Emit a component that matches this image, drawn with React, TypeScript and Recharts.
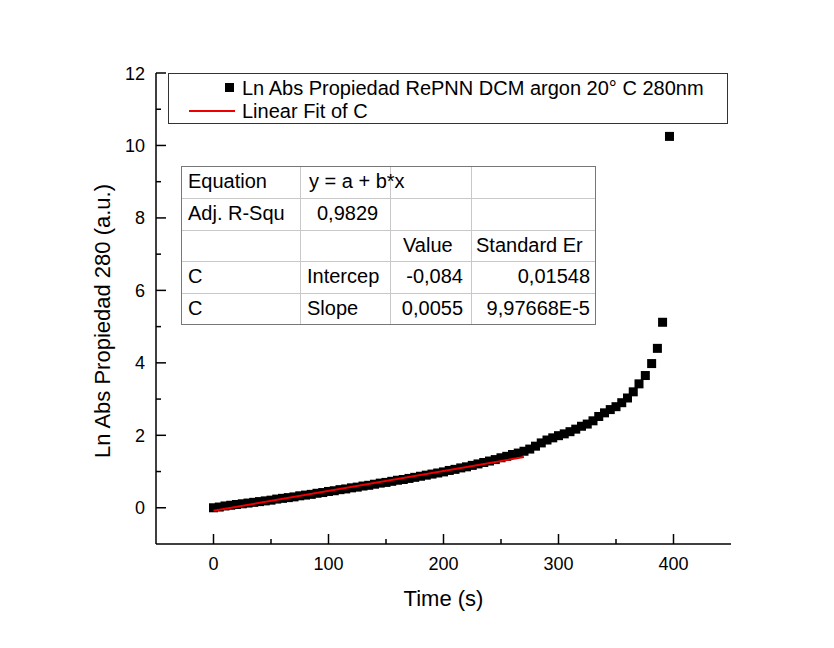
import React from 'react';
import { ScatterChart, Scatter, XAxis, YAxis, Label } from 'recharts';

// ---- data ----
const times = [
  0, 5, 10, 15, 20, 25, 30, 35, 40, 45, 50, 55, 60, 65, 70, 75, 80, 85, 90, 95,
  100, 105, 110, 115, 120, 125, 130, 135, 140, 145, 150, 155, 160, 165, 170, 175, 180, 185, 190, 195,
  200, 205, 210, 215, 220, 225, 230, 235, 240, 245, 250, 255, 260, 265, 270, 275, 280, 285, 290, 295,
  300, 305, 310, 315, 320, 325, 330, 335, 340, 345, 350, 355, 360, 365, 370, 375.5, 381, 386, 390.5, 396.5,
];
const lnAbs = [
  0.0, 0.02, 0.05, 0.07, 0.09, 0.11, 0.13, 0.15, 0.17, 0.19, 0.21, 0.24, 0.26, 0.28, 0.3, 0.33, 0.35, 0.37, 0.4, 0.42,
  0.45, 0.47, 0.5, 0.52, 0.55, 0.57, 0.6, 0.62, 0.65, 0.68, 0.7, 0.73, 0.76, 0.78, 0.81, 0.84, 0.87, 0.9, 0.93, 0.96,
  0.99, 1.03, 1.06, 1.1, 1.13, 1.17, 1.21, 1.25, 1.29, 1.33, 1.38, 1.42, 1.47, 1.51, 1.56, 1.62, 1.7, 1.79, 1.87, 1.93,
  1.99, 2.04, 2.1, 2.17, 2.25, 2.31, 2.4, 2.52, 2.62, 2.71, 2.79, 2.9, 3.03, 3.2, 3.42, 3.65, 3.98, 4.4, 5.12, 10.25,
];
const fitTimes = [0, 270];
const fitValues = [-0.084, 1.401];

const xTicks = [0, 50, 100, 150, 200, 250, 300, 350, 400];
const xLabelTicks = [0, 100, 200, 300, 400];
const yTicks = [0, 1, 2, 3, 4, 5, 6, 7, 8, 9, 10, 11, 12];
const yLabelTicks = [0, 2, 4, 6, 8, 10, 12];

const xTitle = 'Time (s)';
const yTitle = 'Ln Abs Propiedad 280 (a.u.)';
const seriesName = 'Ln Abs Propiedad RePNN DCM argon 20° C 280nm';
const fitName = 'Linear Fit of C';

const tableRows = [
  ['Equation', 'y = a + b*x', '', ''],
  ['Adj. R-Squ', '0,9829', '', ''],
  ['', '', 'Value', 'Standard Er'],
  ['C', 'Intercep', '-0,084', '0,01548'],
  ['C', 'Slope', '0,0055', '9,97668E-5'],
];

const points = times.map((t, i) => ({ t, v: lnAbs[i] }));
const fitLine = fitTimes.map((t, i) => ({ t, v: fitValues[i] }));

const FONT = '"Liberation Sans", Arial, sans-serif';

const XTick = (props: any) => {
  const { x, y, payload } = props;
  const major = xLabelTicks.includes(payload.value);
  return (
    <g>
      <line x1={x} x2={x} y1={y} y2={y - (major ? 10 : 5)} stroke="#000" strokeWidth={1.5} />
      {major && (
        <text x={x} y={y + 26} textAnchor="middle" fontSize={18} fontFamily={FONT} fill="#000">
          {payload.value}
        </text>
      )}
    </g>
  );
};

const YTick = (props: any) => {
  const { x, y, payload } = props;
  const major = yLabelTicks.includes(payload.value);
  return (
    <g>
      <line x1={x} x2={x + (major ? 10 : 5)} y1={y} y2={y} stroke="#000" strokeWidth={1.5} />
      {major && (
        <text x={x - 11} y={y + 6.5} textAnchor="end" fontSize={18} fontFamily={FONT} fill="#000">
          {payload.value}
        </text>
      )}
    </g>
  );
};

const Square = (props: any) => {
  const { cx, cy } = props;
  if (cx == null || cy == null) return <g />;
  return <rect x={cx - 4.5} y={cy - 4.5} width={9} height={9} fill="#000" />;
};

const colWidths = [119, 90, 81, 125];
const colStarts = [0, 119, 209, 290];
const rowH = 31.8;

const cellStyle = (r: number, c: number): React.CSSProperties => {
  const base: React.CSSProperties = {
    position: 'absolute',
    left: colStarts[c],
    top: r * rowH,
    width: colWidths[c],
    height: rowH,
    lineHeight: rowH + 'px',
    fontSize: 20,
    fontFamily: FONT,
    color: '#000',
    whiteSpace: 'nowrap',
    boxSizing: 'border-box',
  };
  const isNum = r >= 3 && c >= 2;
  if (isNum) {
    return { ...base, textAlign: 'right', paddingRight: c === 2 ? 8 : 6 };
  }
  let pad = 7;
  if (c === 1) pad = r === 1 ? 17 : r === 0 ? 9 : 7;
  if (c === 2) pad = 13;
  if (c === 3) pad = 5;
  return { ...base, textAlign: 'left', paddingLeft: pad };
};

export default function App() {
  return (
    <div style={{ position: 'relative', width: 818, height: 630, background: '#fff' }}>
      <ScatterChart width={818} height={630} margin={{ top: 65, right: 95, bottom: 34, left: 88 }}>
        <XAxis
          type="number"
          dataKey="t"
          domain={[-50, 450]}
          ticks={xTicks}
          interval={0}
          tick={XTick}
          tickLine={false}
          tickSize={0}
          tickMargin={0}
          height={60}
          axisLine={{ stroke: '#000', strokeWidth: 1.5 }}
          allowDataOverflow
        >
          <Label
            content={(p: any) => {
              const vb = p.viewBox || {};
              return (
                <text
                  x={vb.x + vb.width / 2}
                  y={vb.y + 62}
                  textAnchor="middle"
                  fontSize={22}
                  fontFamily={FONT}
                  fill="#000"
                >
                  {xTitle}
                </text>
              );
            }}
          />
        </XAxis>
        <XAxis
          xAxisId="top"
          orientation="top"
          type="number"
          dataKey="t"
          domain={[-50, 450]}
          height={0}
          tick={false}
          tickLine={false}
          axisLine={{ stroke: '#000', strokeWidth: 1.5 }}
          allowDataOverflow
        />
        <YAxis
          type="number"
          dataKey="v"
          domain={[-1, 12]}
          ticks={yTicks}
          interval={0}
          tick={YTick}
          tickLine={false}
          tickSize={0}
          tickMargin={0}
          width={60}
          axisLine={{ stroke: '#000', strokeWidth: 1.5 }}
          allowDataOverflow
        >
          <Label
            content={(p: any) => {
              const vb = p.viewBox || {};
              const cx = vb.x + 14;
              const cy = vb.y + 248;
              return (
                <text
                  x={cx}
                  y={cy}
                  transform={`rotate(-90, ${cx}, ${cy})`}
                  textAnchor="middle"
                  fontSize={22}
                  fontFamily={FONT}
                  fill="#000"
                >
                  {yTitle}
                </text>
              );
            }}
          />
        </YAxis>
        <YAxis
          yAxisId="right"
          orientation="right"
          type="number"
          dataKey="v"
          domain={[-1, 12]}
          width={0}
          tick={false}
          tickLine={false}
          axisLine={{ stroke: '#000', strokeWidth: 1.5 }}
          allowDataOverflow
        />
        <Scatter data={points} shape={Square} isAnimationActive={false} />
        <Scatter
          data={fitLine}
          shape={() => <g />}
          line={{ stroke: '#ee0000', strokeWidth: 2 }}
          isAnimationActive={false}
        />
      </ScatterChart>

      {/* legend */}
      <div
        style={{
          position: 'absolute',
          left: 160,
          top: 65,
          width: 560,
          height: 51,
          border: '1px solid #333',
          boxSizing: 'border-box',
          background: '#fff',
        }}
      >
        <div style={{ position: 'absolute', left: 56, top: 9, width: 9, height: 9, background: '#000' }} />
        <div
          style={{
            position: 'absolute',
            left: 73,
            top: 2,
            height: 24,
            lineHeight: '24px',
            fontSize: 20,
            fontFamily: FONT,
            whiteSpace: 'nowrap',
            color: '#000',
          }}
        >
          {seriesName}
        </div>
        <div style={{ position: 'absolute', left: 20, top: 36, width: 46, height: 2, background: '#ee0000' }} />
        <div
          style={{
            position: 'absolute',
            left: 73,
            top: 25,
            height: 24,
            lineHeight: '24px',
            fontSize: 20,
            fontFamily: FONT,
            whiteSpace: 'nowrap',
            color: '#000',
          }}
        >
          {fitName}
        </div>
      </div>

      {/* fit table */}
      <div
        style={{
          position: 'absolute',
          left: 173,
          top: 158,
          width: 415,
          height: rowH * 5,
          background: '#fff',
        }}
      >
        {[1, 2, 3, 4].map((r) => (
          <div
            key={'h' + r}
            style={{ position: 'absolute', left: 0, top: r * rowH, width: 415, height: 1, background: '#c8c8c8' }}
          />
        ))}
        {[1, 2, 3].map((c) => (
          <div
            key={'v' + c}
            style={{ position: 'absolute', left: colStarts[c], top: 0, width: 1, height: rowH * 5, background: '#c8c8c8' }}
          />
        ))}
        {tableRows.map((row, r) =>
          row.map((cell, c) => (
            <div key={r + '-' + c} style={cellStyle(r, c)}>
              {cell}
            </div>
          ))
        )}
        <div
          style={{
            position: 'absolute',
            left: 0,
            top: 0,
            width: 415,
            height: rowH * 5,
            border: '1px solid #777',
            boxSizing: 'border-box',
          }}
        />
      </div>
    </div>
  );
}
